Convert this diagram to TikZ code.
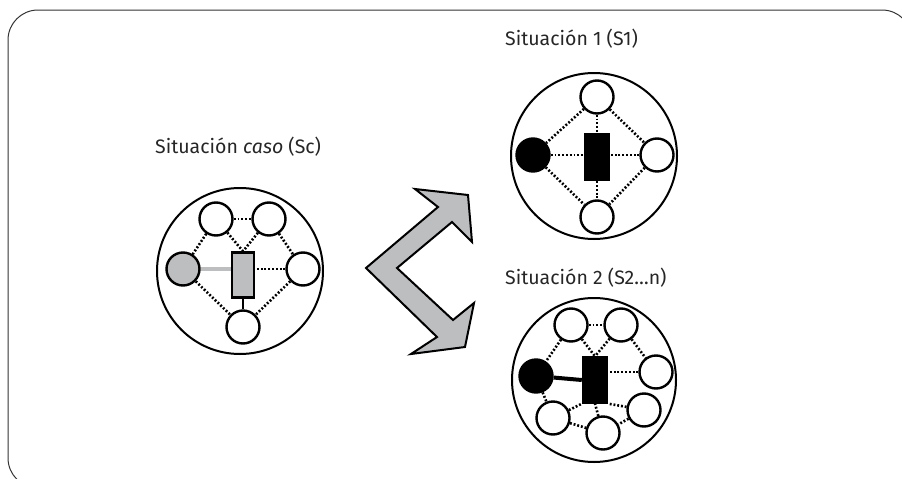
\documentclass[tikz,border=0pt]{standalone}
\usepackage{fontspec}
\setmainfont{Fira Sans}
\definecolor{boxgray}{HTML}{BCBEC0}
\begin{document}
\begin{tikzpicture}[x=1pt,y=-1pt,
  every node/.style={inner sep=0pt},
  frame/.style={draw=black!80, line width=1pt, rounded corners=30pt},
  outer/.style={circle, draw, line width=2pt, minimum size=166pt},
  member/.style={circle, draw, line width=2.4pt, minimum size=33pt, fill=white},
  blackmember/.style={member, fill=black},
  graymember/.style={member, fill=boxgray},
  core/.style={rectangle, draw, line width=2.4pt, minimum width=22pt, minimum height=45pt},
  link/.style={line width=2.6pt, dash pattern=on 1.9pt off 1.9pt},
  bond/.style={line width=4pt},
  label/.style={font=\fontsize{19.5}{22}\selectfont, text=black!85, anchor=base west},
]
\useasboundingbox (0,0) rectangle (902,479);
\clip (0,0) rectangle (902,479);

% outer frame, running past the right and bottom edges
\draw[frame] (8,10) rectangle (912,488);

% ---------- Sc ----------
\node[label] (tsc) at (155,153) {Situación \textit{caso} (Sc)};
\node[outer] (osc) at (240,271) {};
\node[member] (sctl) at (216,219) {};
\node[member] (sctr) at (269,219) {};
\node[graymember] (scl) at (183,269) {};
\node[member] (scr) at (303,269) {};
\node[member] (scb) at (243,327) {};
\node[core, fill=boxgray] (scc) at (243,275) {};
\draw[link] (sctl) -- (sctr);
\draw[link] (sctl) -- (scl);
\draw[link] (sctl) -- (scc.north);
\draw[link] (sctr) -- (scc.north);
\draw[link] (sctr) -- (scr);
\draw[link] (scr) -- (scc.east |- scr);
\draw[link] (scl) -- (scb);
\draw[link] (scr) -- (scb);
\draw[bond, draw=boxgray] (scl) -- (scl -| scc.west);
\draw[line width=2.4pt] (scc.south) -- (scb);

% ---------- branching arrow ----------
\draw[fill=boxgray, line width=2pt, line join=miter]
  (366,268) -- (438,207) -- (415,189) -- (468,195) -- (472,242) -- (452,222)
  -- (397,268) -- (453,320) -- (474,303) -- (465,347) -- (411,354) -- (437,337)
  -- cycle;

% ---------- S1 ----------
\node[label] (ts1) at (505,45) {Situación 1 (S1)};
\node[outer] (os1) at (594,156) {};
\node[member] (s1t) at (597,97) {};
\node[blackmember] (s1l) at (533,155) {};
\node[member] (s1r) at (657,155) {};
\node[member] (s1b) at (597,217) {};
\node[core, fill=black, minimum width=23pt, minimum height=46pt] (s1c) at (597,157) {};
\draw[link] (s1t) -- (s1c.north);
\draw[link] (s1l) -- (s1l -| s1c.west);
\draw[link] (s1r) -- (s1r -| s1c.east);
\draw[link] (s1c.south) -- (s1b);
\draw[link] (s1t) -- (s1l);
\draw[link] (s1t) -- (s1r);
\draw[link] (s1l) -- (s1b);
\draw[link] (s1r) -- (s1b);

% ---------- S2 ----------
\node[label] (ts2) at (505,284) {Situación 2 (S2…n)};
\node[outer, minimum size=164pt] (os2) at (594,380) {};
\node[member] (s2tl) at (571,325) {};
\node[member] (s2tr) at (621,325) {};
\node[member] (s2r) at (656,372) {};
\node[member] (s2lr) at (644,410) {};
\node[member] (s2b) at (603,433) {};
\node[member] (s2ll) at (553,418) {};
\node[blackmember] (s2l) at (536,376) {};
\node[core, fill=black, minimum width=24pt] (s2c) at (595,380) {};
\draw[link] (s2tl) -- (s2tr);
\draw[link] (s2tl) -- (s2l);
\draw[link] (s2tl) -- (s2c.north);
\draw[link] (s2tr) -- (s2c.north);
\draw[link] (s2tr) -- (s2r);
\draw[link] (s2r) -- (s2r -| s2c.east);
\draw[link] (s2lr) -- (s2c.south east);
\draw[link] (s2lr) -- (s2b);
\draw[link] (s2b) -- (s2c.south);
\draw[link] (s2ll) -- (s2b);
\draw[link] (s2ll) -- (s2c.south west);
\draw[link] (s2l) -- (s2ll);
\draw[bond] (s2l) -- (s2c.west);
\end{tikzpicture}
\end{document}
